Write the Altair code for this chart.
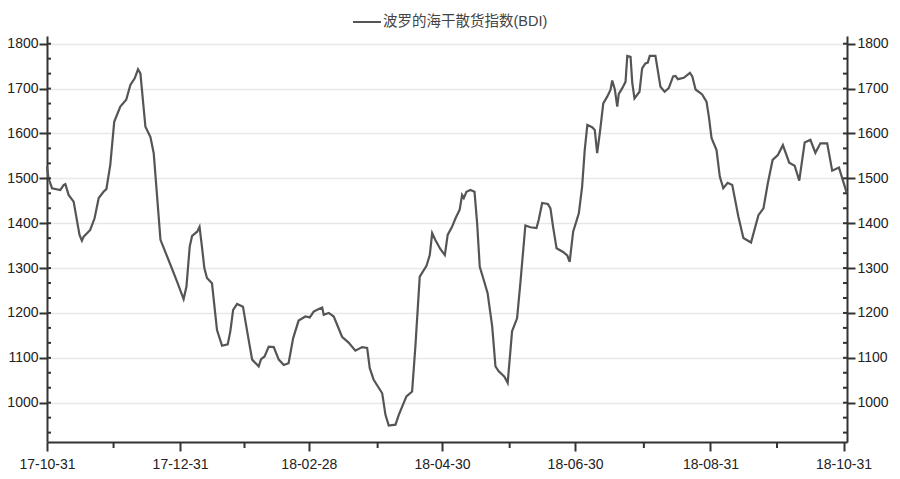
import altair as alt
import pandas as pd

# ---- data ----
start_date = "2017-10-31"
# days elapsed since 2017-10-31 for each sampled point
days = [0,0.7,2.3,6.1,7.6,8.4,9.9,12.2,14.9,16.0,
        16.8,19.8,21.8,23.7,25.9,27.2,29.0,30.8,33.6,36.3,
        38.2,40.2,41.7,42.8,45.1,47.4,48.9,52.0,55.7,59.6,
        62.6,63.9,65.4,66.5,68.8,69.9,71.0,72.1,73.3,75.6,
        77.9,80.2,82.8,84.0,85.3,87.1,89.8,92.0,94.0,97.0,
        98.1,99.7,101.6,103.9,106.2,108.5,110.7,112.8,115.3,118.4,
        120.4,122.2,124.5,126.1,126.8,129.1,131.4,135.2,138.2,141.3,
        144.4,146.7,147.9,149.7,153.6,155.1,156.6,159.7,161.2,164.7,
        167.3,168.8,170.8,173.9,175.4,176.5,178.0,180.3,182.3,183.6,
        185.6,187.2,189.1,190.2,191.0,192.2,194.0,195.9,197.1,198.3,
        200.1,201.9,204.0,205.5,207.0,209.6,211.1,213.1,215.4,216.9,
        219.2,221.5,224.3,225.3,226.9,229.5,230.7,231.9,233.5,236.5,
        238.4,239.5,241.1,243.7,245.2,246.4,247.6,249.8,251.0,252.1,
        253.3,254.9,256.7,258.2,259.0,260.2,261.3,262.0,263.6,265.1,
        265.9,267.4,268.2,269.2,271.5,272.7,274.2,275.3,276.2,278.8,
        281.1,283.0,284.9,286.9,288.0,289.1,291.8,294.6,295.7,297.2,
        300.2,302.2,303.3,304.5,306.8,308.3,309.9,311.9,314.0,316.8,
        319.1,322.6,326.0,328.3,330.3,332.5,334.9,337.2,340.1,342.6,
        344.7,347.2,349.8,352.1,354.4,357.5,359.8,362.9,366.5]
bdi = [1526,1500,1478,1474,1485,1487,1463,1448,1374,1361,
       1370,1385,1411,1456,1470,1476,1530,1626,1660,1675,
       1708,1723,1743,1734,1615,1592,1556,1363,1318,1270,
       1231,1259,1348,1372,1381,1392,1348,1300,1278,1266,
       1162,1127,1130,1159,1207,1220,1214,1151,1096,1081,
       1097,1103,1125,1124,1096,1084,1088,1144,1183,1192,
       1190,1203,1209,1212,1196,1200,1192,1147,1134,1116,
       1124,1122,1077,1051,1021,973,949,951,973,1014,
       1025,1125,1281,1305,1329,1378,1362,1342,1329,1374,
       1392,1411,1430,1463,1456,1470,1474,1470,1400,1303,
       1274,1244,1170,1081,1070,1058,1044,1159,1188,1266,
       1395,1391,1389,1407,1445,1443,1433,1392,1344,1336,
       1328,1314,1381,1422,1481,1563,1619,1614,1608,1556,
       1600,1667,1682,1697,1718,1698,1660,1688,1701,1715,
       1773,1771,1712,1678,1693,1745,1756,1758,1773,1773,
       1704,1693,1701,1727,1728,1721,1724,1735,1727,1698,
       1687,1671,1637,1590,1563,1504,1478,1490,1485,1415,
       1367,1357,1418,1433,1489,1541,1552,1574,1535,1528,
       1495,1580,1586,1557,1578,1578,1517,1524,1467]
series_name = "波罗的海干散货指数(BDI)"

# axis tick values
x_major = [(2017, 10, 31), (2017, 12, 31), (2018, 2, 28), (2018, 4, 30),
           (2018, 6, 30), (2018, 8, 31), (2018, 10, 31)]
x_minor = ["2017-11-30T12:00:00", "2018-01-29T12:00:00", "2018-03-31T12:00:00",
           "2018-05-31T00:00:00", "2018-07-31T12:00:00", "2018-09-30T12:00:00"]
y_major = [1000, 1100, 1200, 1300, 1400, 1500, 1600, 1700, 1800]
y_minor = [round(900 + i * 100 / 3, 2) for i in range(1, 28)]

# ---- build tables ----
t0 = pd.Timestamp(start_date)
df = pd.DataFrame({
    "date": [(t0 + pd.Timedelta(days=d)).strftime("%Y-%m-%dT%H:%M:%S") for d in days],
    "bdi": bdi,
    "series": series_name,
})
df_xminor = pd.DataFrame({"date": x_minor})
df_yminor = pd.DataFrame({"v": y_minor})

W, H = 800, 406
FONT = "'Liberation Sans', Arial, sans-serif"
LEGEND_FONT = "'Liberation Sans', 'Noto Sans CJK SC', sans-serif"

x_scale = alt.Scale(domain=[alt.DateTime(year=2017, month=10, date=31),
                            alt.DateTime(year=2018, month=11, date=1, hours=14)])
y_scale = alt.Scale(domain=[912.4, 1817.2], nice=False, zero=False)

x_enc = alt.X("date:T", scale=x_scale,
              axis=alt.Axis(values=[alt.DateTime(year=y, month=m, date=d) for y, m, d in x_major],
                            format="%y-%m-%d", title=None, grid=False,
                            tickSize=9, labelPadding=6, labelFlush=False,
                            labelOverlap=False))

line = alt.Chart(df).mark_line(strokeWidth=2.2, interpolate="linear").encode(
    x=x_enc,
    y=alt.Y("bdi:Q", scale=y_scale,
            axis=alt.Axis(orient="left", values=y_major, format="d", title=None, grid=True,
                          tickSize=8, labelPadding=1, labelFlush=False)),
    color=alt.Color("series:N", scale=alt.Scale(range=["#555555"]),
                    legend=alt.Legend(title=None, orient="none", legendX=305, legendY=-29,
                                      symbolType="stroke", symbolSize=784,
                                      symbolStrokeWidth=2, labelFont=LEGEND_FONT,
                                      labelFontSize=14.5, labelColor="#444444",
                                      labelLimit=400, padding=0, labelOffset=1)),
)

right = alt.Chart(df).mark_line(strokeOpacity=0).encode(
    x=x_enc,
    y=alt.Y("bdi:Q", scale=y_scale,
            axis=alt.Axis(orient="right", values=y_major, format="d", title=None, grid=False,
                          tickSize=8, labelPadding=2, labelFlush=False)),
)

xminor = alt.Chart(df_xminor).mark_rule(color="#333333", strokeWidth=2).encode(
    x=x_enc, y=alt.value(H), y2=alt.value(H + 6))

yminor_left = alt.Chart(df_yminor).mark_rule(color="#333333", strokeWidth=2).encode(
    y=alt.Y("v:Q", scale=y_scale, axis=None), x=alt.value(0), x2=alt.value(4))
yminor_right = alt.Chart(df_yminor).mark_rule(color="#333333", strokeWidth=2).encode(
    y=alt.Y("v:Q", scale=y_scale, axis=None), x=alt.value(W - 4), x2=alt.value(W))

chart = alt.layer(line, right, xminor, yminor_left, yminor_right).resolve_scale(
    y="independent"
).properties(
    width=W, height=H,
    autosize=alt.AutoSizeParams(type="none"),
    padding={"left": 39, "top": 28, "right": 45, "bottom": 29},
).configure_view(strokeWidth=0).configure_axis(
    labelFont=FONT, labelFontSize=14, labelColor="#222222",
    domainColor="#333333", domainWidth=2, tickColor="#333333", tickWidth=2,
    gridColor="#e8e8e8", gridWidth=1.5,
)

chart.save("out.html", embed_options={"renderer": "svg", "actions": False})
